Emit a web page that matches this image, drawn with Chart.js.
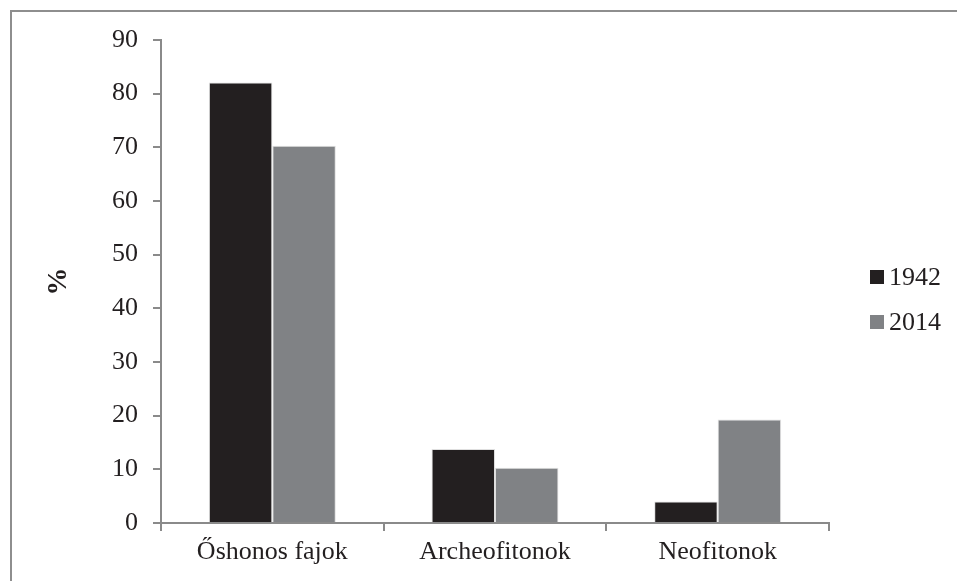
<!DOCTYPE html>
<html>
<head>
<meta charset="utf-8">
<style>
  html, body { margin: 0; padding: 0; background: #fff; }
  #wrap { position: relative; width: 957px; height: 581px; overflow: hidden; }
  #frame { position: absolute; left: 10px; top: 10px; width: 1000px; height: 700px;
           border: 2px solid #8e8e8e; box-sizing: border-box; pointer-events: none; }
  canvas { position: absolute; left: 0; top: 0; }
</style>
<script src="https://cdn.jsdelivr.net/npm/chart.js@4"></script>
</head>
<body>
<div id="wrap">
  <canvas id="c" width="957" height="581"></canvas>
  <div id="frame"></div>
</div>
<script>
// Proportion of native species, archaeophytes and neophytes (%)
const categories = ['Őshonos fajok', 'Archeofitonok', 'Neofitonok'];
const values1942 = [82.1, 13.8, 4.0];
const values2014 = [70.3, 10.3, 19.3];
const seriesLabels = ['1942', '2014'];
const yTicks = [0, 10, 20, 30, 40, 50, 60, 70, 80, 90];

const FONT = '"Liberation Serif", "Times New Roman", serif';
const TEXT = '#231f20';
const AXIS = '#8a8a8a';

// Legend drawn on the right, beside the plot area
const sideLegend = {
  id: 'sideLegend',
  afterDraw(chart) {
    const ctx = chart.ctx;
    ctx.save();
    ctx.font = '26px ' + FONT;
    ctx.textBaseline = 'middle';
    chart.data.datasets.forEach((ds, i) => {
      const y = 277 + i * 45;
      ctx.fillStyle = ds.backgroundColor;
      ctx.fillRect(870, y - 7, 14, 14);
      ctx.fillStyle = TEXT;
      ctx.fillText(ds.label, 889, y + 1);
    });
    ctx.restore();
  }
};

new Chart(document.getElementById('c'), {
  type: 'bar',
  data: {
    labels: categories,
    datasets: [
      { label: seriesLabels[0], data: values1942, backgroundColor: '#231f20',
        borderColor: 'rgba(210,210,210,0.7)', borderWidth: 1 },
      { label: seriesLabels[1], data: values2014, backgroundColor: '#808285',
        borderColor: 'rgba(210,210,210,0.7)', borderWidth: 1 }
    ]
  },
  options: {
    responsive: false,
    animation: false,
    layout: { padding: { left: 0, right: 128, top: 40, bottom: 0 } },
    datasets: { bar: { categoryPercentage: 0.57, barPercentage: 1.0 } },
    plugins: { legend: { display: false }, tooltip: { enabled: false } },
    scales: {
      x: {
        offset: true,
        grid: { offset: true, drawOnChartArea: false, drawTicks: true, tickLength: 8,
                color: AXIS, lineWidth: 2 },
        border: { color: AXIS, width: 2 },
        ticks: { color: TEXT, font: { family: FONT, size: 26 }, padding: 6, maxRotation: 0 },
        afterFit(scale) { scale.height = 58; }
      },
      y: {
        min: 0, max: 90,
        afterBuildTicks(scale) { scale.ticks = yTicks.map(v => ({ value: v })); },
        grid: { drawOnChartArea: false, drawTicks: true, tickLength: 8, color: AXIS, lineWidth: 2 },
        border: { color: AXIS, width: 2 },
        ticks: { color: TEXT, font: { family: FONT, size: 26 }, padding: 15 },
        title: { display: true, text: '%', color: TEXT,
                 font: { family: FONT, size: 28, weight: 'bold' }, padding: { top: 42, bottom: 0 } },
        afterFit(scale) { scale.width = 161; }
      }
    }
  },
  plugins: [sideLegend]
});
</script>
</body>
</html>
